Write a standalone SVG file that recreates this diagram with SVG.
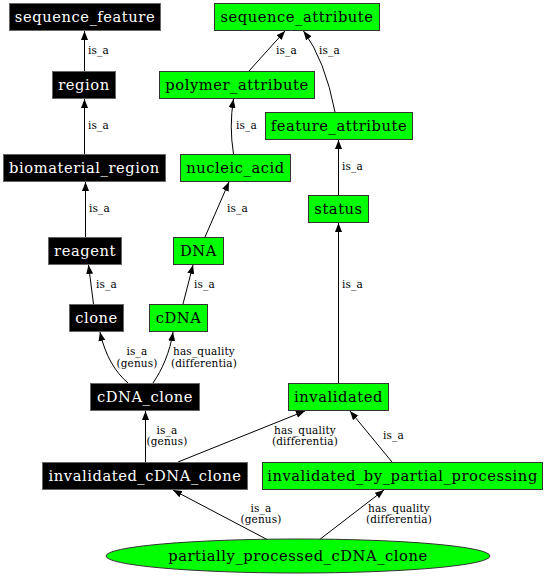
<svg xmlns="http://www.w3.org/2000/svg" width="546" height="576" viewBox="0 0 546 576">
<style>
.bk rect{fill:#000;stroke:#666;stroke-width:1}
.gn rect,.gn ellipse{fill:#00ff00;stroke:#333;stroke-width:1}
.bk text{fill:#fff}
.gn text{fill:#000}
.node text{font-family:"DejaVu Serif",serif;font-size:14.7px;letter-spacing:0.55px;text-anchor:middle}
#edges path{fill:none;stroke:#000;stroke-width:1;marker-end:url(#arr)}
#edges text{font-family:"DejaVu Serif",serif;font-size:10.5px;letter-spacing:0.15px;fill:#000}
.m{text-anchor:middle}
</style>
<defs>
<marker id="arr" markerUnits="userSpaceOnUse" markerWidth="10" markerHeight="8" refX="9" refY="4" orient="auto">
<path d="M0,0.5 L9,4 L0,7.5 z" fill="#000"/>
</marker>
</defs>
<rect width="546" height="576" fill="#fff"/>
<g id="edges">
<path d="M84.5,71 L84.5,31"/><text x="88" y="54">is_a</text>
<path d="M84.5,154 L84.5,99"/><text x="88" y="129">is_a</text>
<path d="M85.5,237 L85.5,182"/><text x="89" y="212">is_a</text>
<path d="M93.5,304 L88.5,265"/><text x="96" y="288">is_a</text>
<path d="M183,304 L193,265"/><text x="194" y="288">is_a</text>
<path d="M205,237 L229,182"/><text x="227" y="212">is_a</text>
<path d="M233.5,154 Q229,126 233.5,99"/><text x="236" y="129">is_a</text>
<path d="M249,71 L285,31"/><text x="276" y="54">is_a</text>
<path d="M335,112 Q325,60 303.5,31"/><text x="319" y="54">is_a</text>
<path d="M338.5,195 L338.5,140"/><text x="342" y="170">is_a</text>
<path d="M338.5,383 L338.5,223"/><text x="342" y="288">is_a</text>
<path d="M128,383 C115,372 105,355 100,332"/><text class="m" x="137" y="355">is_a</text><text class="m" x="137" y="367">(genus)</text>
<path d="M153,383 C162,370 170,352 173,332"/><text class="m" x="204" y="355">has_quality</text><text class="m" x="204" y="367">(differentia)</text>
<path d="M145.5,462 L145.5,411"/><text class="m" x="167" y="434">is_a</text><text class="m" x="167" y="445">(genus)</text>
<path d="M178,462 L305,411"/><text class="m" x="305" y="434">has_quality</text><text class="m" x="305" y="445">(differentia)</text>
<path d="M392,462 L350,411"/><text x="383" y="439">is_a</text>
<path d="M268,540 L173,490"/><text class="m" x="261" y="512">is_a</text><text class="m" x="261" y="523">(genus)</text>
<path d="M319,540 L384,490"/><text class="m" x="399" y="512">has_quality</text><text class="m" x="399" y="523">(differentia)</text>
</g>
<g id="sequence_feature" class="node bk"><rect x="9.5" y="3.5" width="151" height="27"/><text x="85" y="21.5">sequence_feature</text></g>
<g id="region" class="node bk"><rect x="52.5" y="71.5" width="63" height="27"/><text x="84" y="89.5">region</text></g>
<g id="biomaterial_region" class="node bk"><rect x="3.5" y="154.5" width="162" height="27"/><text x="84.5" y="172.5">biomaterial_region</text></g>
<g id="reagent" class="node bk"><rect x="48.5" y="237.5" width="73" height="27"/><text x="85" y="255.5">reagent</text></g>
<g id="clone" class="node bk"><rect x="69.5" y="304.5" width="54" height="27"/><text x="96.5" y="322.5">clone</text></g>
<g id="cDNA_clone" class="node bk"><rect x="90.5" y="383.5" width="109" height="27"/><text x="145" y="401.5">cDNA_clone</text></g>
<g id="invalidated_cDNA_clone" class="node bk"><rect x="42.5" y="462.5" width="205" height="27"/><text x="145" y="480.5">invalidated_cDNA_clone</text></g>
<g id="sequence_attribute" class="node gn"><rect x="214.5" y="3.5" width="165" height="27"/><text x="297" y="21.5">sequence_attribute</text></g>
<g id="polymer_attribute" class="node gn"><rect x="159.5" y="71.5" width="155" height="27"/><text x="237" y="89.5">polymer_attribute</text></g>
<g id="feature_attribute" class="node gn"><rect x="265.5" y="112.5" width="147" height="27"/><text x="339" y="130.5">feature_attribute</text></g>
<g id="nucleic_acid" class="node gn"><rect x="180.5" y="154.5" width="110" height="27"/><text x="235.5" y="172.5">nucleic_acid</text></g>
<g id="DNA" class="node gn"><rect x="173.5" y="237.5" width="50" height="27"/><text x="198.5" y="255.5">DNA</text></g>
<g id="cDNA" class="node gn"><rect x="149.5" y="304.5" width="58" height="27"/><text x="178.5" y="322.5">cDNA</text></g>
<g id="status" class="node gn"><rect x="308.5" y="195.5" width="60" height="27"/><text x="338.5" y="213.5">status</text></g>
<g id="invalidated" class="node gn"><rect x="288.5" y="383.5" width="100" height="27"/><text x="338.5" y="401.5">invalidated</text></g>
<g id="invalidated_by_partial_processing" class="node gn"><rect x="262.5" y="462.5" width="280" height="27"/><text x="402.5" y="480.5">invalidated_by_partial_processing</text></g>
<g id="partially_processed_cDNA_clone" class="node gn"><ellipse cx="298" cy="556" rx="192" ry="17"/><text x="298" y="561">partially_processed_cDNA_clone</text></g>
</svg>
